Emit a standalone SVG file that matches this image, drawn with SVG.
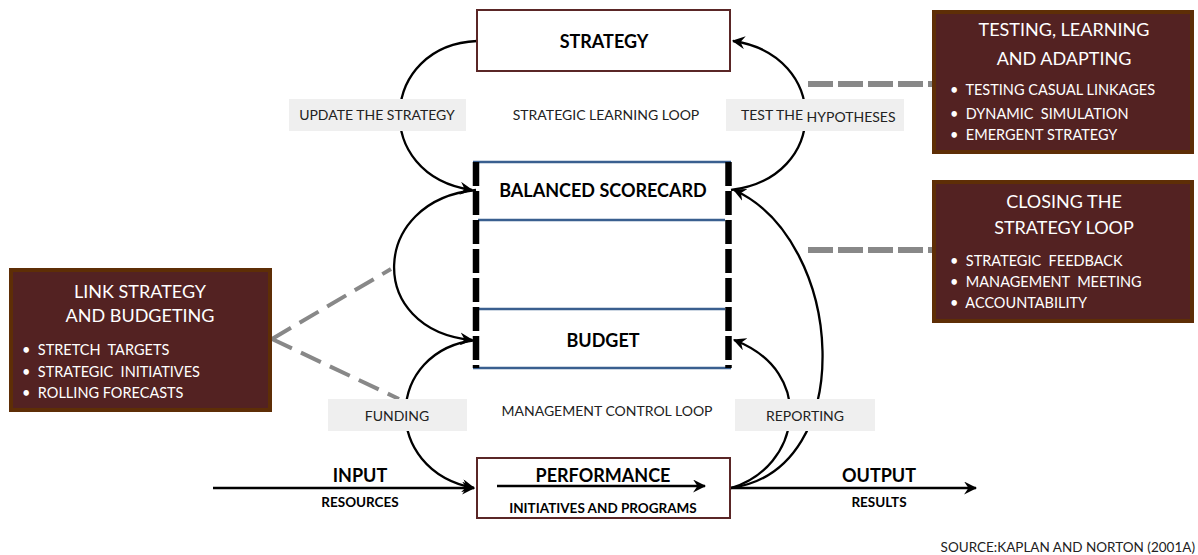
<svg xmlns="http://www.w3.org/2000/svg" width="1198" height="555" viewBox="0 0 1198 555">
<defs>
<style>
text{font-family:Lato,"Liberation Sans",sans-serif;white-space:pre;}
.box{fill:#fff;stroke:#5a2626;stroke-width:2;}
.lbl{fill:#efefef;}
.lt{font-size:14px;fill:#222;text-anchor:middle;}
.big{font-size:18px;font-weight:bold;fill:#000;text-anchor:middle;}
.sm{font-size:13.5px;font-weight:bold;fill:#000;text-anchor:middle;}
.dark{fill:#532222;stroke:#5e2e06;stroke-width:4;}
.dt{font-size:18px;fill:#fff;text-anchor:middle;}
.bt{font-size:14.5px;fill:#fff;}
.arc{fill:none;stroke:#000;stroke-width:2.3;}
.blue{stroke:#3a5f8f;stroke-width:2.5;}
.side{stroke:#000;stroke-width:6.5;stroke-dasharray:24 5;}
.gd{stroke:#888;stroke-width:6;stroke-dasharray:25 5;fill:none;}
.gd2{stroke:#888;stroke-width:4;stroke-dasharray:22 10;fill:none;}
</style>
<marker id="ah" viewBox="0 0 12 12" refX="11" refY="6" markerWidth="13" markerHeight="13" markerUnits="userSpaceOnUse" orient="auto">
<path d="M0,0 L12,6 L0,12 L4,6 z" fill="#000"/>
</marker>
</defs>
<rect width="1198" height="555" fill="#fff"/>

<g id="connectors">
<path class="arc" d="M477,41 C380,45 370,175 472,190" marker-end="url(#ah)"/>
<path class="arc" d="M731,190 C830,178 830,55 733,41" marker-end="url(#ah)"/>
<path class="arc" d="M476,190 C370,200 365,330 472,340" marker-end="url(#ah)"/>
<path class="arc" d="M476,340 C385,350 380,470 474,488" marker-end="url(#ah)"/>
<path class="arc" d="M731,488 C800,468 818,372 734,340" marker-end="url(#ah)"/>
<path class="arc" d="M731,488 C860,470 845,240 734,190" marker-end="url(#ah)"/>
<path class="arc" d="M213,488 L474,488" marker-end="url(#ah)"/>
<path class="arc" d="M731,488 L976,488" marker-end="url(#ah)"/>
<path class="gd" d="M808,84 L932,84"/>
<path class="gd" d="M808,250 L932,250"/>
<path class="gd2" d="M272,339 L391,269"/>
<path class="gd2" d="M272,339 L399,399"/>
</g>

<g id="labels">
<rect class="lbl" x="289" y="99" width="177" height="32"/>
<rect class="lbl" x="726" y="99" width="178" height="32"/>
<rect class="lbl" x="328" y="399" width="139" height="32"/>
<rect class="lbl" x="735" y="399" width="140" height="32"/>
<text class="lt" x="377" y="120">UPDATE THE STRATEGY</text>
<text class="lt" x="606" y="120">STRATEGIC LEARNING LOOP</text>
<text class="lt" x="741" y="120" style="text-anchor:start">TEST THE <tspan dy="2">HYPOTHESES</tspan></text>
<text class="lt" x="397" y="421">FUNDING</text>
<text class="lt" x="607" y="416">MANAGEMENT CONTROL LOOP</text>
<text class="lt" x="805" y="421">REPORTING</text>
</g>

<g id="strategy">
<rect class="box" x="477" y="10" width="253" height="61"/>
<text class="big" x="604" y="48">STRATEGY</text>
</g>

<g id="scorecard-budget">
<line class="blue" x1="473" y1="162" x2="731" y2="162"/>
<line class="blue" x1="478" y1="220" x2="725" y2="220"/>
<line class="blue" x1="478" y1="309" x2="725" y2="309"/>
<line class="blue" x1="473" y1="368" x2="731" y2="368"/>
<line class="side" x1="476" y1="162" x2="476" y2="368"/>
<line class="side" x1="728.5" y1="162" x2="728.5" y2="368"/>
<text class="big" x="603" y="197">BALANCED SCORECARD</text>
<text class="big" x="603" y="347">BUDGET</text>
</g>

<g id="performance">
<rect class="box" x="477" y="458" width="253" height="60"/>
<text class="big" x="603" y="482">PERFORMANCE</text>
<path class="arc" d="M497,486 L705,486" marker-end="url(#ah)"/>
<text class="sm" x="603" y="513">INITIATIVES AND PROGRAMS</text>
</g>

<g id="input">
<text class="big" x="360" y="482">INPUT</text>
<text class="sm" x="360" y="507">RESOURCES</text>
</g>

<g id="output">
<text class="big" x="879" y="482">OUTPUT</text>
<text class="sm" x="879" y="507">RESULTS</text>
</g>

<g id="testing">
<rect class="dark" x="934" y="12" width="258" height="140"/>
<text class="dt" x="1064" y="36">TESTING, LEARNING</text>
<text class="dt" x="1064" y="65">AND ADAPTING</text>
<text class="bt" x="950" y="95">•  TESTING CASUAL LINKAGES</text>
<text class="bt" x="950" y="119">•  DYNAMIC  SIMULATION</text>
<text class="bt" x="950" y="140">•  EMERGENT STRATEGY</text>
</g>

<g id="closing">
<rect class="dark" x="934" y="182" width="258" height="139"/>
<text class="dt" x="1064" y="208">CLOSING THE</text>
<text class="dt" x="1064" y="234">STRATEGY LOOP</text>
<text class="bt" x="950" y="266">•  STRATEGIC  FEEDBACK</text>
<text class="bt" x="950" y="287">•  MANAGEMENT  MEETING</text>
<text class="bt" x="950" y="308">•  ACCOUNTABILITY</text>
</g>

<g id="link">
<rect class="dark" x="11" y="270" width="259" height="140"/>
<text class="dt" x="140" y="298">LINK STRATEGY</text>
<text class="dt" x="140" y="322">AND BUDGETING</text>
<text class="bt" x="22" y="355">•  STRETCH  TARGETS</text>
<text class="bt" x="22" y="377">•  STRATEGIC  INITIATIVES</text>
<text class="bt" x="22" y="398">•  ROLLING FORECASTS</text>
</g>

<g id="source">
<text x="1195" y="552" style="font-size:13.5px;fill:#222;text-anchor:end">SOURCE:KAPLAN AND NORTON (2001A)</text>
</g>
</svg>
